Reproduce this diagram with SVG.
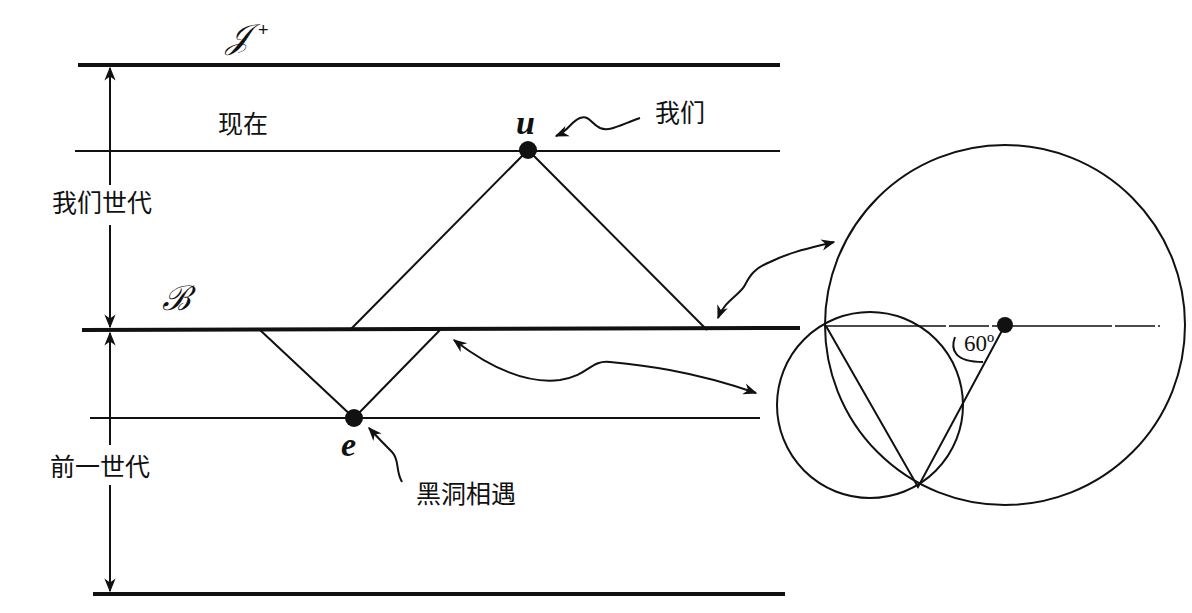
<svg xmlns="http://www.w3.org/2000/svg" width="1192" height="613" viewBox="0 0 1192 613">
<style>
.thick{stroke:#111;stroke-width:4;fill:none}
.thin{stroke:#111;stroke-width:2;fill:none}
.cn{font-family:"Noto Sans CJK SC",sans-serif;font-size:25px;fill:#111}
.it{font-family:"Liberation Serif",serif;font-style:italic;fill:#111}
</style>
<defs>
<marker id="ah2" viewBox="0 0 10 10" refX="9" refY="5" markerWidth="14" markerHeight="14" orient="auto-start-reverse" markerUnits="userSpaceOnUse"><path d="M0,1 L10,5 L0,9 L3,5 z" fill="#111"/></marker>
</defs>
<rect width="1192" height="613" fill="#fff"/>
<g id="lines">
<line class="thick" x1="78" y1="65" x2="780" y2="65"/>
<line class="thin" x1="75" y1="151" x2="780" y2="151"/>
<line class="thick" x1="82" y1="330" x2="800" y2="328"/>
<line class="thin" x1="90" y1="418" x2="760" y2="418"/>
<line class="thick" x1="93" y1="594" x2="785" y2="594"/>
</g>
<g id="connectors">
<path class="thin" d="M110,185 L110,68" marker-end="url(#ah2)"/>
<path class="thin" d="M110,225 L110,327" marker-end="url(#ah2)"/>
<path class="thin" d="M110,445 L110,333" marker-end="url(#ah2)"/>
<path class="thin" d="M110,485 L110,591" marker-end="url(#ah2)"/>
<path class="thin" d="M350,330 L528,150 L707,330"/>
<path class="thin" d="M260,330 L354,418 L440,330"/>
<path class="thin" d="M640,118 C620,125 610,132 600,128 C590,123 590,115 580,118 C570,122 570,130 556,136" marker-end="url(#ah2)"/>
<path class="thin" d="M402,482 C395,470 400,460 392,452 C385,445 380,440 369,428" marker-end="url(#ah2)"/>
<path class="thin" d="M718,318 C725,300 740,295 745,285 C750,275 755,268 770,262 C790,252 810,248 834,242" marker-start="url(#ah2)" marker-end="url(#ah2)"/>
<path class="thin" d="M454,340 C480,360 520,385 560,380 C590,375 590,360 610,362 C640,365 690,370 756,393" marker-start="url(#ah2)" marker-end="url(#ah2)"/>
</g>
<g id="u"><circle cx="528" cy="150" r="9" fill="#111"/><text class="it" x="516" y="134" font-size="34" font-weight="bold">u</text></g>
<g id="e"><circle cx="354" cy="418" r="9" fill="#111"/><text class="it" x="341" y="456" font-size="34" font-weight="bold">e</text></g>
<g id="labels">
<text class="it" x="226" y="48" font-size="34">𝒥</text><text x="258" y="36" font-family="Liberation Sans,sans-serif" font-size="18" fill="#111">+</text>
<text class="it" x="162" y="310" font-size="34">ℬ</text>
<text class="cn" x="218" y="133">现在</text>
<text class="cn" x="52" y="212">我们世代</text>
<text class="cn" x="50" y="476">前一世代</text>
<text class="cn" x="655" y="122">我们</text>
<text class="cn" x="416" y="503">黑洞相遇</text>
</g>
<g id="geometry">
<circle class="thin" cx="1005" cy="325" r="180"/>
<circle class="thin" cx="870" cy="405" r="93"/>
<line x1="826" y1="326" x2="1160" y2="326" stroke="#111" stroke-width="1.5" stroke-dasharray="120,3,40,3"/>
<path class="thin" d="M826,326 L918,487 L1005,325"/>
<circle cx="1005" cy="325" r="8" fill="#111"/>
<path class="thin" d="M955,337 C950,350 955,362 983,362"/>
<text x="964" y="351" font-family="Liberation Serif,serif" font-size="23" fill="#111">60º</text>
</g>
</svg>
